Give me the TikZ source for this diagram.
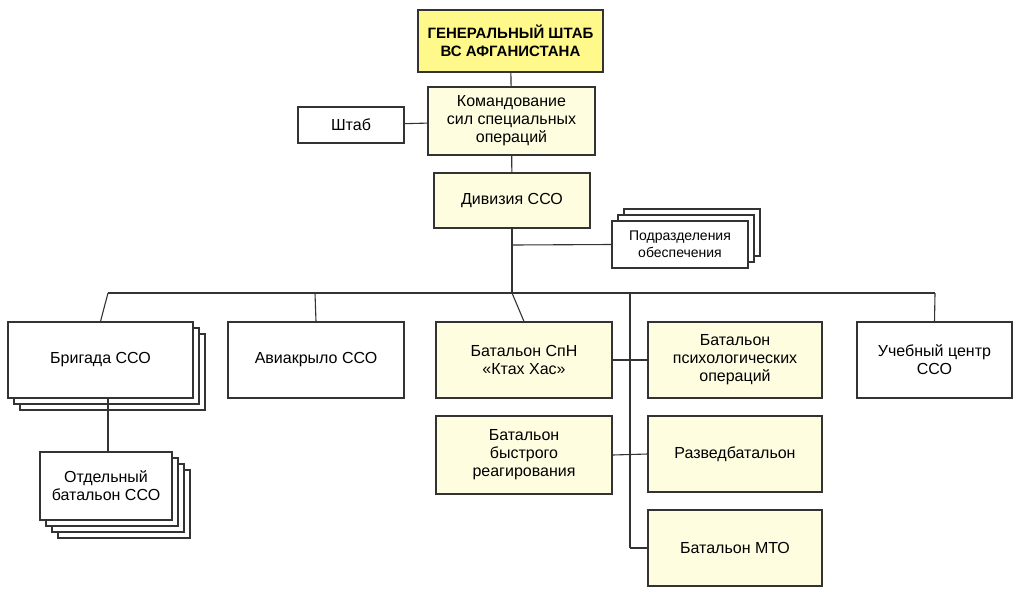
\documentclass[tikz,border=0pt]{standalone}
\usepackage{fontspec}
\setmainfont{Liberation Sans}
\begin{document}
\begin{tikzpicture}[x=1pt,y=-1pt,
 box/.style={draw=black!80,line width=1.1pt,fill=white,align=center,font=\fontsize{16}{18}\selectfont,inner sep=0pt},
 yb/.style={box,fill=yellow!12!white},
 ln/.style={draw=black!80,line width=1.1pt}]
\useasboundingbox (0,0) rectangle (1024,595);
\fill[white] (0,0) rectangle (1024,595);
\def\bx#1#2#3#4#5#6#7{\node[#1,minimum width=#4-#2,minimum height=#5-#3] (#6) at ({(#2+#4)/2},{(#3+#5)/2}) {#7};}
\bx{box,fill=yellow!45!white,font=\bfseries\fontsize{15}{18}\selectfont}{418}{10}{603}{72}{gs}{ГЕНЕРАЛЬНЫЙ ШТАБ\\ВС АФГАНИСТАНА}
\bx{yb}{428}{87}{595}{155}{ks}{Командование\\сил специальных\\операций}
\bx{box}{298}{107}{404}{143}{sh}{Штаб}
\bx{yb}{434}{173}{590}{228}{div}{Дивизия ССО}
\bx{box}{624}{209}{760}{256}{p3}{}
\bx{box}{618}{215}{754}{262}{p2}{}
\bx{box,font=\fontsize{14}{17}\selectfont}{612}{221}{748}{268}{pod}{Подразделения\\обеспечения}
\bx{box}{20}{334}{205}{410}{b3}{}
\bx{box}{14}{328}{199}{404}{b2}{}
\bx{box}{8}{322}{193}{398}{br}{Бригада ССО}
\bx{box}{58}{470}{190}{538}{o4}{}
\bx{box}{52}{464}{184}{532}{o3}{}
\bx{box}{46}{458}{178}{526}{o2}{}
\bx{box}{40}{452}{172}{520}{ob}{Отдельный\\батальон ССО}
\bx{box}{228}{322}{404}{398}{av}{Авиакрыло ССО}
\bx{yb}{436}{322}{612}{398}{spn}{Батальон СпН\\«Ктах Хас»}
\bx{yb}{648}{322}{822}{398}{psy}{Батальон\\психологических\\операций}
\bx{box}{857}{322}{1012}{398}{uc}{Учебный центр\\ССО}
\bx{yb}{436}{416}{612}{494}{bbr}{Батальон\\быстрого\\реагирования}
\bx{yb}{648}{416}{822}{492}{raz}{Разведбатальон}
\bx{yb}{648}{510}{822}{586}{mto}{Батальон МТО}
\coordinate (h1) at (108,293); \coordinate (h2) at (935,293);
\coordinate (j) at (630,293); \coordinate (jb) at (630,548);
\draw[ln] (gs) -- (ks);
\draw[ln] (sh) -- (ks);
\draw[ln] (ks) -- (div);
\draw[ln] (div.south) -- (512,293);
\draw[ln] (512,245) -- (pod.west);
\draw[ln] (h1) -- (h2);
\draw[ln] (h1) -- (br.north);
\draw[ln] (315,293) -- (av.north);
\draw[ln] (512,293) -- (spn.north);
\draw[ln] (h2) -- (uc.north);
\draw[ln] (j) -- (jb);
\draw[ln] (spn.east) -- (psy.west);
\draw[ln] (bbr.east) -- (raz.west);
\draw[ln] (jb) -- (mto.west);
\draw[ln] (br.south -| 108,0) -- (ob.north -| 108,0);
\end{tikzpicture}
\end{document}
